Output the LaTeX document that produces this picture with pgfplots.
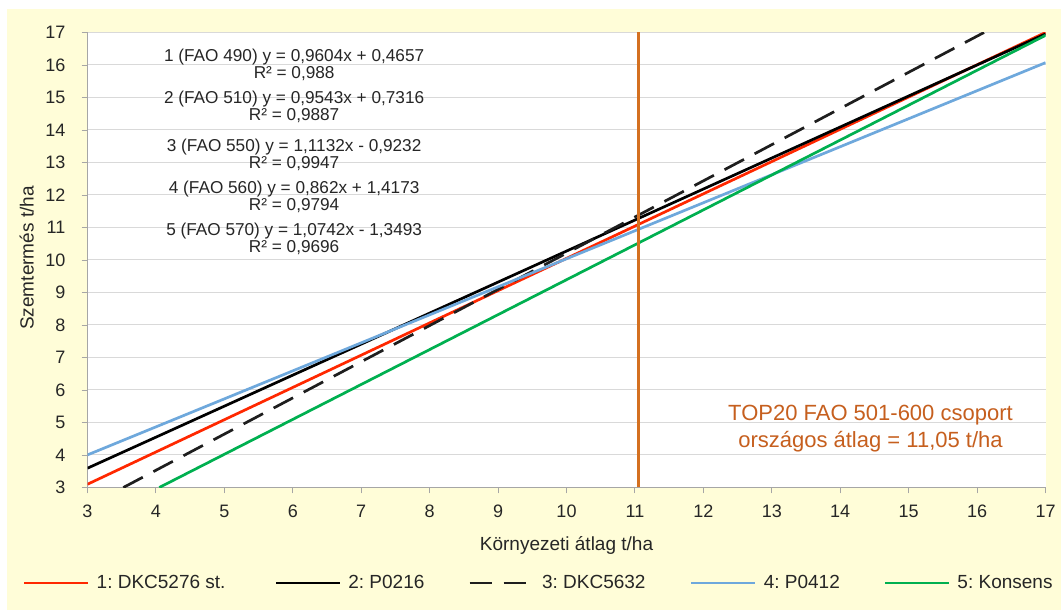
\documentclass[border=0pt]{standalone}
\usepackage{fontspec}
\setmainfont{Liberation Sans}
\usepackage{pgfplots}
\pgfplotsset{compat=1.18}
\definecolor{bgyellow}{RGB}{255,253,216}
\definecolor{txt}{RGB}{38,38,38}
\definecolor{gridc}{RGB}{217,217,217}
\definecolor{axc}{RGB}{166,166,166}
\definecolor{sred}{RGB}{255,40,0}
\definecolor{sblue}{RGB}{110,168,220}
\definecolor{sgreen}{RGB}{0,176,80}
\definecolor{sdash}{RGB}{30,30,30}
\definecolor{oline}{RGB}{212,112,32}
\definecolor{otext}{RGB}{198,95,30}
\begin{document}
\frenchspacing
\begin{tikzpicture}
\path[use as bounding box] (0,0) rectangle (1061bp,610bp);
\fill[bgyellow] (7bp,0) rectangle (1061bp,601bp);
\begin{axis}[
  at={(87.5bp,122.5bp)}, anchor=south west,
  scale only axis, width=958bp, height=455bp,
  xmin=3, xmax=17, ymin=3, ymax=17,
  xtick={3,4,...,17}, ytick={3,4,...,17},
  axis background/.style={fill=white},
  axis x line*=bottom, axis y line*=left,
  axis line style={-, draw=axc, line width=0.9bp},
  ymajorgrids, major grid style={draw=gridc, line width=1bp},
  tick align=outside, major tick length=6bp,
  major tick style={draw=axc, line width=0.9bp},
  /pgf/number format/assume math mode=true,
  ticklabel style={font=\fontsize{18bp}{20bp}\selectfont, text=txt},
  xticklabel style={inner sep=0pt, anchor=north, yshift=-11.5bp},
  yticklabel style={inner sep=0pt, anchor=east, xshift=-16bp},
  xlabel={Környezeti átlag t/ha}, ylabel={Szemtermés t/ha},
  xlabel style={at={(axis description cs:0.5,-0.1264)}, anchor=center, font=\fontsize{19bp}{21bp}\selectfont, text=txt},
  ylabel style={at={(axis description cs:-0.0635,0.5044)}, anchor=center, font=\fontsize{19bp}{21bp}\selectfont, text=txt},
  legend style={at={(axis description cs:-0.06733,-0.2099)}, anchor=west, draw=none, fill=none,
    inner sep=0pt, outer sep=0pt, font=\fontsize{19bp}{21bp}\selectfont, text=txt,
    nodes={inner sep=0pt, outer sep=0pt}, cells={inner sep=0pt},
    /tikz/every odd column/.style={column sep=7bp}},
  legend columns=5, legend cell align=left,
  legend image code/.code={\draw[#1] (0bp,0bp) -- (64bp,0bp);},
]
\addplot[sred, line width=2.7bp] coordinates {(3,3.1) (17,17)};
\addlegendentry[inner sep=0pt]{\makebox[178bp][l]{1: DKC5276 st.}}
\addplot[black, line width=2.7bp] coordinates {(3,3.594) (17,16.955)};
\addlegendentry[inner sep=0pt]{\makebox[120bp][l]{2: P0216}}
\addplot[sdash, line width=2.7bp, dash pattern=on 22bp off 12bp] coordinates {(3.524,3) (16.101,17)};
\addlegendentry[inner sep=0pt]{\makebox[148bp][l]{3: DKC5632}}
\addplot[sblue, line width=2.7bp] coordinates {(3,4.003) (17,16.071)};
\addlegendentry[inner sep=0pt]{\makebox[120bp][l]{4: P0412}}
\addplot[sgreen, line width=2.7bp] coordinates {(4.049,3) (17,16.912)};
\addlegendentry[inner sep=0pt]{5: Konsens}
\addplot[oline, line width=2.7bp, forget plot] coordinates {(11.05,3) (11.05,17)};
\node[align=center, font=\fontsize{17.2bp}{17.5bp}\selectfont, text=txt, inner sep=0pt] at (axis cs:6.02,16.008) {1 (FAO 490) y = 0,9604x + 0,4657\\R² = 0,988};
\node[align=center, font=\fontsize{17.2bp}{17.5bp}\selectfont, text=txt, inner sep=0pt] at (axis cs:6.02,14.714) {2 (FAO 510) y = 0,9543x + 0,7316\\R² = 0,9887};
\node[align=center, font=\fontsize{17.2bp}{17.5bp}\selectfont, text=txt, inner sep=0pt] at (axis cs:6.02,13.236) {3 (FAO 550) y = 1,1132x - 0,9232\\R² = 0,9947};
\node[align=center, font=\fontsize{17.2bp}{17.5bp}\selectfont, text=txt, inner sep=0pt] at (axis cs:6.02,11.942) {4 (FAO 560) y = 0,862x + 1,4173\\R² = 0,9794};
\node[align=center, font=\fontsize{17.2bp}{17.5bp}\selectfont, text=txt, inner sep=0pt] at (axis cs:6.02,10.648) {5 (FAO 570) y = 1,0742x - 1,3493\\R² = 0,9696};
\node[align=center, font=\fontsize{22bp}{27bp}\selectfont, text=otext] at (axis cs:14.442,4.817) {TOP20 FAO 501-600 csoport\\országos átlag = 11,05 t/ha};
\end{axis}
\end{tikzpicture}
\end{document}
